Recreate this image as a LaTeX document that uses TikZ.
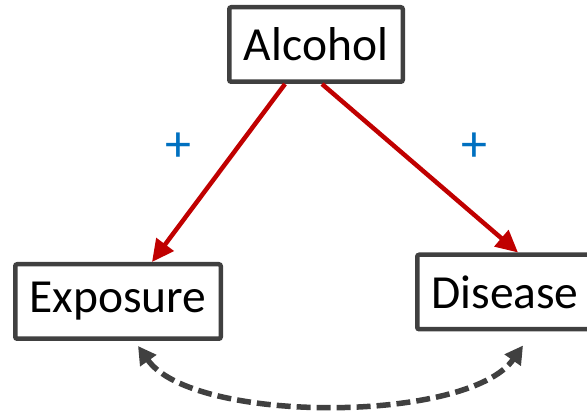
\documentclass[tikz,border=0pt]{standalone}
\usepackage{fontspec}
\setmainfont{Carlito}
\usetikzlibrary{arrows.meta}
\definecolor{boxgray}{HTML}{404040}
\definecolor{causered}{HTML}{C00000}
\definecolor{signblue}{HTML}{0070C0}
\begin{document}
\begin{tikzpicture}[x=1pt,y=-1pt,
  varbox/.style={draw=boxgray,line width=4.5pt,rounded corners=2pt,fill=white,
    rectangle,minimum height=74.5pt,inner sep=0pt,font=\fontsize{47.5}{50}\selectfont},
  causal/.style={draw=causered,line width=4.5pt,-{Triangle[length=22pt,width=21pt]}},
  assoc/.style={draw=boxgray,line width=5.5pt,dash pattern=on 14pt off 6pt,
    {Triangle[length=18pt,width=19pt]}-{Triangle[length=18pt,width=19pt]}},
  sign/.style={text=signblue,font=\fontsize{52}{52}\selectfont,inner sep=0pt}]
\useasboundingbox (0,0) rectangle (587,414);
% variables
\node[varbox,minimum width=173.5pt] (alc) at (316,44.5) {Alcohol};
\node[varbox,minimum width=205.5pt] (exp) at (118,301.5) {Exposure};
\node[varbox,minimum width=175.5pt] (dis) at (505,292) {Disease};
% causal paths
\draw[causal] ([xshift=-31pt]alc.south) -- ([xshift=34pt]exp.north);
\draw[causal] ([xshift=6pt]alc.south) -- ([xshift=13pt]dis.north);
% signs
\node[sign] (s1) at (178,147) {+};
\node[sign] (s2) at (474,147) {+};
% association
\coordinate (ea) at ([xshift=20pt,yshift=-5pt]exp.south);
\coordinate (da) at ([xshift=18pt,yshift=-14pt]dis.south);
\draw[assoc] (ea) .. controls ([shift={(55,78)}]ea) and ([shift={(-55,78)}]da) .. (da);
\end{tikzpicture}
\end{document}
